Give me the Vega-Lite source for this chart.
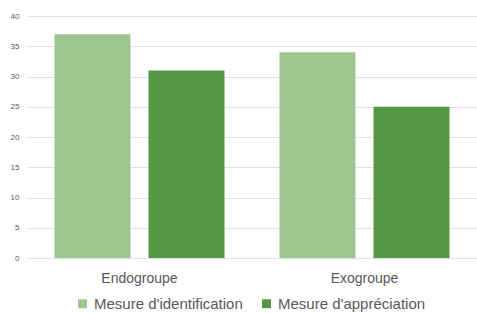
{
  "$schema": "https://vega.github.io/schema/vega-lite/v6.json",
  "width": 450,
  "height": 242,
  "autosize": "none",
  "padding": {"left": 27, "top": 16, "right": 0, "bottom": 55},
  "background": "white",
  "config": {"view": {"stroke": null}, "font": "Liberation Sans"},
  "data": {"values": [
    {"groupe": "Endogroupe", "mesure": "Mesure d'identification", "valeur": 37},
    {"groupe": "Endogroupe", "mesure": "Mesure d'appréciation", "valeur": 31},
    {"groupe": "Exogroupe", "mesure": "Mesure d'identification", "valeur": 34},
    {"groupe": "Exogroupe", "mesure": "Mesure d'appréciation", "valeur": 25}
  ]},
  "mark": {"type": "bar"},
  "encoding": {
    "x": {"field": "groupe", "type": "nominal", "title": null,
      "scale": {"paddingInner": 0, "paddingOuter": 0},
      "axis": {"labelAngle": 0, "domain": false, "ticks": false, "labelFontSize": 14, "labelColor": "#595959", "labelPadding": 13}},
    "xOffset": {"field": "mesure", "type": "nominal", "sort": ["Mesure d'identification", "Mesure d'appréciation"],
      "scale": {"paddingInner": 0.1915, "paddingOuter": 0.2926}},
    "y": {"field": "valeur", "type": "quantitative", "title": null,
      "scale": {"domain": [0, 40]},
      "axis": {"values": [0, 5, 10, 15, 20, 25, 30, 35, 40], "domain": false, "ticks": false, "labelFontSize": 8, "labelColor": "#595959", "labelPadding": 8, "gridColor": "#e0e0e0", "gridWidth": 1}},
    "color": {"field": "mesure", "type": "nominal", "sort": ["Mesure d'identification", "Mesure d'appréciation"],
      "scale": {"range": ["#9DC691", "#549846"]},
      "legend": {"title": null, "orient": "none", "direction": "horizontal", "legendX": 48, "legendY": 280, "symbolType": "square", "symbolSize": 80, "symbolStrokeWidth": 0, "labelFontSize": 15, "labelColor": "#595959", "labelOffset": 4, "columnPadding": 16}}
  }
}
